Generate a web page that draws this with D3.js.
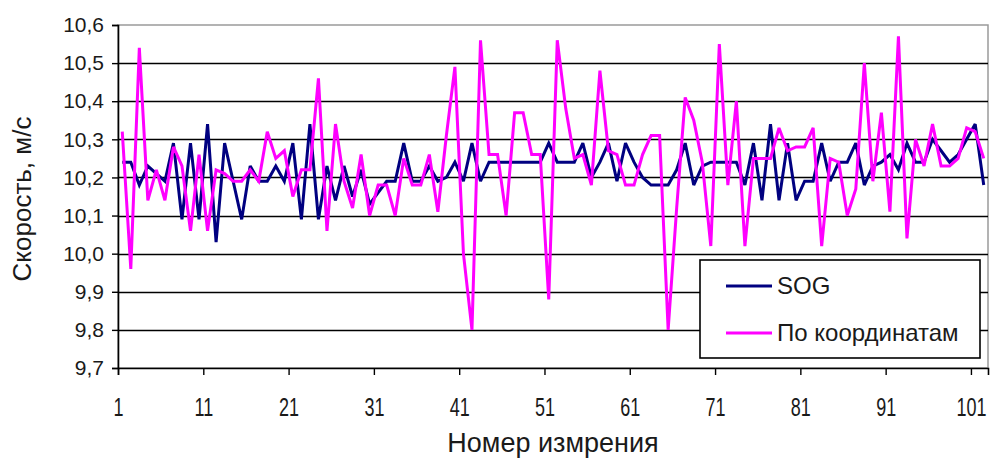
<!DOCTYPE html>
<html>
<head>
<meta charset="utf-8">
<script src="https://cdn.jsdelivr.net/npm/d3@7"></script>
<style>
  html, body { margin: 0; padding: 0; background: #fff; }
  svg { display: block; font-family: "Liberation Sans", Arial, sans-serif; }
</style>
</head>
<body>
<div id="chart"></div>
<script>
// Speed measured by SOG vs. speed derived from coordinates

const SOG = [
  10.24, 10.24, 10.18, 10.23, 10.21, 10.19, 10.29, 10.09, 10.29, 10.09,
  10.34, 10.03, 10.29, 10.19, 10.09, 10.23, 10.19, 10.19, 10.23, 10.19,
  10.29, 10.09, 10.34, 10.09, 10.23, 10.14, 10.23, 10.15, 10.22, 10.13,
  10.16, 10.19, 10.19, 10.29, 10.19, 10.19, 10.23, 10.19, 10.20, 10.24,
  10.19, 10.29, 10.19, 10.24, 10.24, 10.24, 10.24, 10.24, 10.24, 10.24,
  10.29, 10.24, 10.24, 10.24, 10.29, 10.20, 10.24, 10.29, 10.19, 10.29,
  10.24, 10.20, 10.18, 10.18, 10.18, 10.22, 10.29, 10.18, 10.23, 10.24,
  10.24, 10.24, 10.24, 10.18, 10.29, 10.14, 10.34, 10.14, 10.29, 10.14,
  10.19, 10.19, 10.29, 10.19, 10.24, 10.24, 10.29, 10.18, 10.23, 10.24,
  10.26, 10.22, 10.29, 10.24, 10.24, 10.30, 10.27, 10.24, 10.26, 10.30,
  10.34, 10.18
];

const COORDS = [
  10.32, 9.96, 10.54, 10.14, 10.22, 10.14, 10.28, 10.23, 10.06, 10.26,
  10.06, 10.22, 10.21, 10.19, 10.19, 10.22, 10.19, 10.32, 10.25, 10.27,
  10.15, 10.22, 10.22, 10.46, 10.06, 10.34, 10.19, 10.12, 10.26, 10.10,
  10.18, 10.18, 10.10, 10.25, 10.18, 10.18, 10.26, 10.11, 10.31, 10.49,
  10.00, 9.80, 10.56, 10.26, 10.26, 10.10, 10.37, 10.37, 10.26, 10.26,
  9.88, 10.56, 10.38, 10.25, 10.26, 10.18, 10.48, 10.27, 10.26, 10.18,
  10.18, 10.26, 10.31, 10.31, 9.80, 10.12, 10.41, 10.35, 10.24, 10.02,
  10.55, 10.18, 10.40, 10.02, 10.25, 10.25, 10.25, 10.33, 10.27, 10.28,
  10.28, 10.33, 10.02, 10.25, 10.24, 10.10, 10.17, 10.50, 10.19, 10.37,
  10.11, 10.57, 10.04, 10.30, 10.23, 10.34, 10.23, 10.23, 10.25, 10.33,
  10.32, 10.25
];

const X_TICKS = [1, 11, 21, 31, 41, 51, 61, 71, 81, 91, 101];
const Y_TICKS = [9.7, 9.8, 9.9, 10.0, 10.1, 10.2, 10.3, 10.4, 10.5, 10.6];

const SERIES = [
  { name: "SOG",            values: SOG,    color: "#000080" },
  { name: "По координатам", values: COORDS, color: "#ff00ff" }
];

const W = 992, H = 463;
const plot = { left: 118, right: 988, top: 25, bottom: 368 };

const svg = d3.select("#chart").append("svg")
    .attr("width", W)
    .attr("height", H);

// categories sit between tick marks (Excel "between categories")
const nCat = SOG.length;
const x = d3.scaleLinear()
    .domain([0.5, nCat + 0.5])
    .range([plot.left, plot.right]);

const y = d3.scaleLinear()
    .domain([9.7, 10.6])
    .range([plot.bottom, plot.top]);

const fmt = v => d3.format(".1f")(v).replace(".", ",");

// ── Plot frame + grid ─────────────────────────────────────────────
svg.append("rect")
    .attr("x", plot.left).attr("y", plot.top)
    .attr("width", plot.right - plot.left)
    .attr("height", plot.bottom - plot.top)
    .attr("fill", "#fff")
    .attr("stroke", "#9a9a9a")
    .attr("stroke-width", 1.5);

svg.append("g")
    .selectAll("line")
    .data(Y_TICKS.filter(v => v > 9.7 && v < 10.6))
    .join("line")
    .attr("x1", plot.left).attr("x2", plot.right)
    .attr("y1", d => Math.round(y(d)) + 0.5)
    .attr("y2", d => Math.round(y(d)) + 0.5)
    .attr("stroke", "#000")
    .attr("stroke-width", 1.6);

// ── Axes ─────────────────────────────────────────────────────────
const yAxis = svg.append("g")
    .attr("transform", `translate(${plot.left},0)`)
    .call(d3.axisLeft(y).tickValues(Y_TICKS).tickFormat(fmt).tickSize(6).tickPadding(8));

// tick marks on category boundaries, labelled with the first category after them
const xAxis = svg.append("g")
    .attr("transform", `translate(0,${plot.bottom})`)
    .call(d3.axisBottom(x)
        .tickValues(X_TICKS.map(t => t - 0.5))
        .tickFormat(t => String(t + 0.5))
        .tickSize(7).tickPadding(23));

[xAxis, yAxis].forEach(ax => {
    ax.select(".domain").attr("stroke", "#000").attr("stroke-width", 1.6);
    ax.selectAll(".tick line").attr("stroke", "#000").attr("stroke-width", 1.4);
    ax.selectAll(".tick text")
        .attr("fill", "#1a1a1a")
        .style("font-family", "'Liberation Sans', Arial, sans-serif");
});
yAxis.selectAll(".tick text").style("font-size", "21px");
// x labels in the source are tall and narrow
xAxis.selectAll(".tick text")
    .style("font-size", "25px")
    .attr("transform", "scale(0.72,1)");

// ── Series lines ─────────────────────────────────────────────────
const line = d3.line()
    .x((d, i) => x(i + 1))
    .y(d => y(d));

svg.append("g")
    .selectAll("path")
    .data(SERIES)
    .join("path")
    .attr("d", d => line(d.values))
    .attr("fill", "none")
    .attr("stroke", d => d.color)
    .attr("stroke-width", 3)
    .attr("stroke-linejoin", "miter")
    .attr("stroke-miterlimit", 3);

// ── Axis titles ──────────────────────────────────────────────────
svg.append("text")
    .attr("x", 553)
    .attr("y", 452)
    .attr("text-anchor", "middle")
    .attr("fill", "#1a1a1a")
    .style("font-size", "27px")
    .text("Номер измрения");

svg.append("text")
    .attr("transform", "translate(31,199) rotate(-90)")
    .attr("text-anchor", "middle")
    .attr("fill", "#1a1a1a")
    .style("font-size", "26px")
    .text("Скорость, м/с");

// ── Legend ───────────────────────────────────────────────────────
const legend = svg.append("g").attr("transform", "translate(700,260)");

legend.append("rect")
    .attr("width", 280).attr("height", 98)
    .attr("fill", "#fff")
    .attr("stroke", "#000")
    .attr("stroke-width", 1.6);

const item = legend.selectAll("g.item")
    .data(SERIES)
    .join("g")
    .attr("class", "item")
    .attr("transform", (d, i) => `translate(0,${26 + i * 47})`);

item.append("line")
    .attr("x1", 26).attr("x2", 72)
    .attr("stroke", d => d.color)
    .attr("stroke-width", 3);

item.append("text")
    .attr("x", 77)
    .attr("dy", "0.35em")
    .attr("fill", "#1a1a1a")
    .style("font-size", "24px")
    .text(d => d.name);
</script>
</body>
</html>
